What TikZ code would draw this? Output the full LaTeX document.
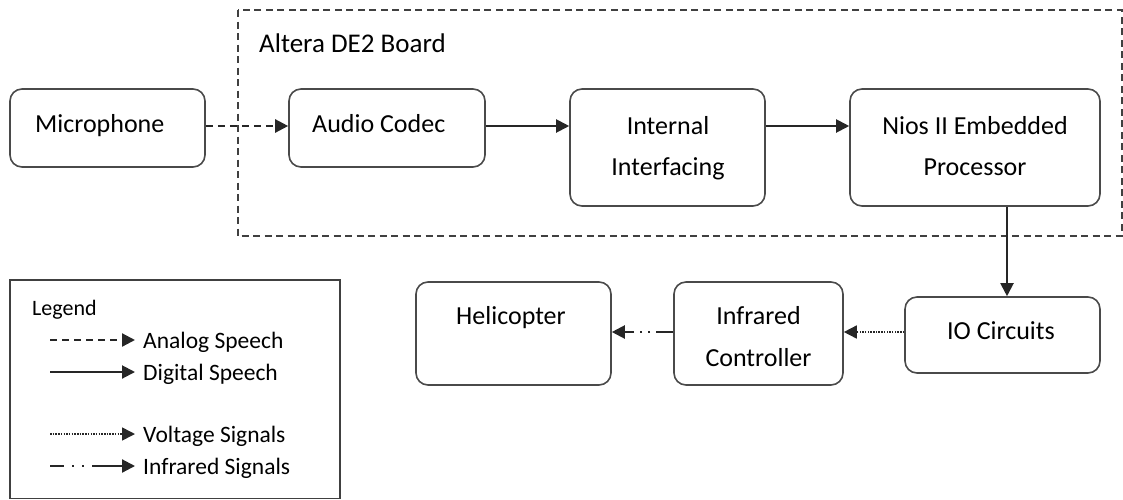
\documentclass[tikz,border=0pt]{standalone}
\usepackage{fontspec}
\setmainfont{Carlito}
\usetikzlibrary{arrows.meta,calc}
\definecolor{boxgray}{HTML}{4A4A4A}
\definecolor{linegray}{HTML}{404040}
\begin{document}
\begin{tikzpicture}[x=1pt,y=-1pt,
  box/.style={draw=boxgray,line width=1.6pt,rounded corners=12pt,inner sep=0pt},
  lbl/.style={inner sep=0pt,font=\fontsize{26}{30}\selectfont},
  lglbl/.style={inner sep=0pt,anchor=base west,font=\fontsize{23.5}{27}\selectfont},
  conn/.style={line width=2pt,draw=black!85,-{Triangle[length=13pt,width=13pt]}},
  analog/.style={conn,line width=2.3pt,dash pattern=on 7pt off 5pt},
  digital/.style={conn},
  voltage/.style={conn,line width=1.6pt,dash pattern=on 1.5pt off 1.2pt},
  infra/.style={conn,line width=2.2pt,dash pattern=on 17pt off 6pt on 2pt off 6pt on 2pt off 6pt on 30pt},
  board/.style={draw=linegray,line width=2pt,dash pattern=on 7pt off 4.5pt}]
\useasboundingbox (0,0) rectangle (1123,499);

% board
\draw[board] (237.5,10) rectangle (1121.5,236);
\node[lbl,anchor=base west,font=\fontsize{27}{30}\selectfont] (boardlbl) at (259,52) {Altera DE2 Board};

% boxes
\node[box,minimum width=195pt,minimum height=78pt] (mic) at (107.5,128) {};
\node[box,minimum width=196pt,minimum height=78pt] (codec) at (387,128) {};
\node[box,minimum width=195pt,minimum height=117pt] (internal) at (667.5,147.5) {};
\node[box,minimum width=250pt,minimum height=117pt] (nios) at (975,147.5) {};
\node[box,minimum width=195pt,minimum height=76pt] (io) at (1002.5,335) {};
\node[box,minimum width=169pt,minimum height=103pt] (infrared) at (758.5,333.5) {};
\node[box,minimum width=195pt,minimum height=103pt] (heli) at (513.5,333.5) {};

% texts
\node[lbl,anchor=base west] (mictxt) at (35,132) {Microphone};
\node[lbl,anchor=base west] (codectxt) at (312,132) {Audio Codec};
\node[lbl,anchor=base] (int1) at (668,134) {Internal};
\node[lbl,anchor=base] (int2) at (668,175) {Interfacing};
\node[lbl,anchor=base] (nios1) at (975,134) {Nios II Embedded};
\node[lbl,anchor=base] (nios2) at (975,175) {Processor};
\node[lbl,anchor=base] (iotxt) at (1001,339) {IO Circuits};
\node[lbl,anchor=base] (inf1) at (758.5,324) {Infrared};
\node[lbl,anchor=base] (inf2) at (758.5,366) {Controller};
\node[lbl,anchor=base west] (helitxt) at (456,324) {Helicopter};

% connectors
\coordinate (a1) at ($(mic.east)+(0,-2)$);
\draw[analog] (a1) -- (a1 -| codec.west);
\coordinate (a2) at ($(codec.east)+(0,-2)$);
\draw[digital] (a2) -- (a2 -| internal.west);
\coordinate (a3) at (internal.east |- a2);
\draw[digital] (a3) -- (a3 -| nios.west);
\coordinate (a4) at ($(io.north)+(4.5,0)$);
\draw[digital] (a4 |- nios.south) -- (a4);
\coordinate (a5) at ($(io.west)+(0,-3)$);
\draw[voltage] (a5) -- (a5 -| infrared.east);
\coordinate (a6) at (infrared.west |- a5);
\draw[infra] (a6) -- (a6 -| heli.east);

% legend
\draw[draw=linegray,line width=1.6pt] (10,280) rectangle (340,498.5);
\node[lglbl,font=\fontsize{22}{26}\selectfont] (legtitle) at (32,315) {Legend};
\coordinate (l1s) at (50,340); \coordinate (l1e) at (135,340);
\coordinate (l2s) at (50,372); \coordinate (l2e) at (135,372);
\coordinate (l3s) at (50,434); \coordinate (l3e) at (135,434);
\coordinate (l4s) at (50,466); \coordinate (l4e) at (135,466);
\draw[analog] (l1s) -- (l1e);
\draw[digital] (l2s) -- (l2e);
\draw[voltage] (l3s) -- (l3e);
\draw[infra,dash pattern=on 14pt off 8pt on 2pt off 8pt on 2pt off 8pt on 40pt] (l4s) -- (l4e);
\node[lglbl] (lt1) at (143,348) {Analog Speech};
\node[lglbl] (lt2) at (143,380) {Digital Speech};
\node[lglbl] (lt3) at (143,442) {Voltage Signals};
\node[lglbl] (lt4) at (143,474) {Infrared Signals};
\end{tikzpicture}
\end{document}
